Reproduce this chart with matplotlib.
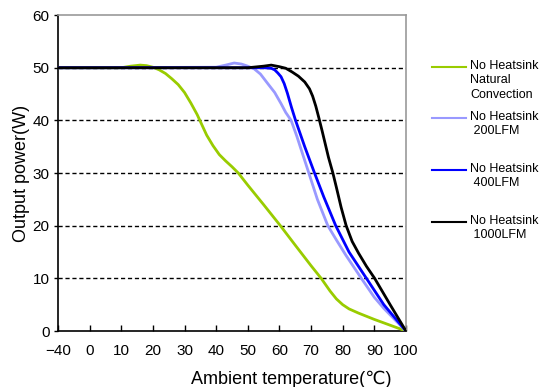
import numpy as np
import matplotlib
matplotlib.use("Agg")
import matplotlib.pyplot as plt
from matplotlib.lines import Line2D

plt.rcParams['font.family'] = ['Liberation Sans', 'DejaVu Sans']

# ---- data ----
green_t = [-40, 0, 10, 13, 16, 18, 20, 22, 24, 26, 28, 30, 32, 34, 35, 37, 39, 41, 43, 45, 47, 50, 55,
           60.3, 65, 70, 73.2, 76, 78, 80, 82, 85, 90, 95, 100]
green_p = [50, 50, 50, 50.3, 50.5, 50.4, 50.1, 49.6, 48.9, 47.9, 46.8, 45.3, 43.3, 41.1, 39.8, 37.2, 35.2, 33.5,
           32.3, 31.2, 30, 27.7, 24, 20, 16.3, 12.4, 10, 7.6, 6.1, 5.0, 4.2, 3.4, 2.2, 1.1, 0]

lb_t = [-40, 0, 40, 43, 45.7, 48, 50, 52, 54, 56.3, 58.5, 60.5, 62, 63.7, 65.5, 66.9, 69.3, 72, 75.3, 78, 81,
        85.9, 90, 93, 96.4, 100]
lb_p = [50, 50, 50.1, 50.5, 50.9, 50.7, 50.3, 49.8, 48.8, 47, 45.3, 43.2, 41.5, 40, 37, 34.4, 30, 25, 20, 17.3,
        14.4, 10, 6.4, 4.3, 2.2, 0]

bl_t = [-40, 0, 50, 55, 57.4, 58.5, 59.5, 60.5, 61.5, 62.5, 63.8, 65.1, 68, 71.1, 74, 77.8, 82, 87.5, 93, 100]
bl_p = [50, 50, 50, 50, 49.9, 49.6, 49, 48.3, 47, 45.2, 42.5, 40, 35, 30, 25.5, 20, 15, 10, 5, 0]

bk_t = [-40, 0, 50, 55, 57.4, 60, 62, 64, 66, 68, 69.5, 70.5, 71.5, 72.5, 73.5, 74.5, 75.5, 76.9, 78, 79.5,
        81.1, 83, 85, 87.5, 90.1, 95, 100]
bk_p = [50, 50, 50, 50.3, 50.5, 50.2, 49.9, 49.2, 48.4, 47.3, 46, 44.6, 42.7, 40.4, 38, 35.5, 33, 30, 27.3,
        23.5, 20, 17, 14.8, 12.3, 10, 5, 0]

series = [
    ("No Heatsink\nNatural\nConvection", green_t, green_p, "#99cc00"),
    ("No Heatsink\n 200LFM", lb_t, lb_p, "#9999ff"),
    ("No Heatsink\n 400LFM", bl_t, bl_p, "#0000ff"),
    ("No Heatsink\n 1000LFM", bk_t, bk_p, "#000000"),
]
xticks = [-40, 0, 10, 20, 30, 40, 50, 60, 70, 80, 90, 100]
yticks = [0, 10, 20, 30, 40, 50, 60]

fig = plt.figure(figsize=(5.42, 3.87), dpi=100)
ax = fig.add_axes([0.107, 0.1447, 0.642, 0.8163])


def fwd(v):
    v = np.asarray(v, dtype=float)
    return np.where(v < 0, v / 4.0, v)


def inv(v):
    v = np.asarray(v, dtype=float)
    return np.where(v < 0, v * 4.0, v)


ax.set_xscale('function', functions=(fwd, inv))
ax.set_xlim(-40, 100)
ax.set_ylim(0, 60)

for y in yticks[1:-1]:
    ax.axhline(y, color='black', lw=1.0, ls=(0, (3, 2)), zorder=1)

for lab, t, p, c in series:
    ax.plot(t, p, color=c, lw=2.0, zorder=3, solid_joinstyle='round', solid_capstyle='round')

ax.set_xticks(xticks)
ax.set_xticklabels([('\u2212%d' % -v) if v < 0 else str(v) for v in xticks])
ax.set_yticks(yticks)
ax.xaxis.set_minor_locator(matplotlib.ticker.NullLocator())
ax.tick_params(axis='x', direction='in', length=4, width=1, labelsize=11, pad=9)
ax.tick_params(axis='y', direction='out', length=3, width=1, labelsize=11, pad=3)

for s in ['left', 'bottom']:
    ax.spines[s].set_color('black')
    ax.spines[s].set_linewidth(1.2)
for s in ['top', 'right']:
    ax.spines[s].set_color('#999999')
    ax.spines[s].set_linewidth(1.2)

ax.set_xlabel('Ambient temperature(\u2103)', fontsize=13, labelpad=2)
ax.xaxis.set_label_coords(0.67, -0.125)
ax.set_ylabel('Output power(W)', fontsize=13, labelpad=2)

# legend drawn at right side
leg_y = [67, 118, 170, 222]
H, W = 387.0, 542.0
for (lab, t, p, c), yp in zip(series, leg_y):
    yf = 1 - yp / H
    fig.add_artist(Line2D([432 / W, 466 / W], [yf, yf], color=c, lw=1.5, transform=fig.transFigure))
    fig.text(470 / W, yf + 7 / H, lab, fontsize=9, va='top', ha='left', linespacing=1.25)

fig.savefig('out.png', dpi=100)
